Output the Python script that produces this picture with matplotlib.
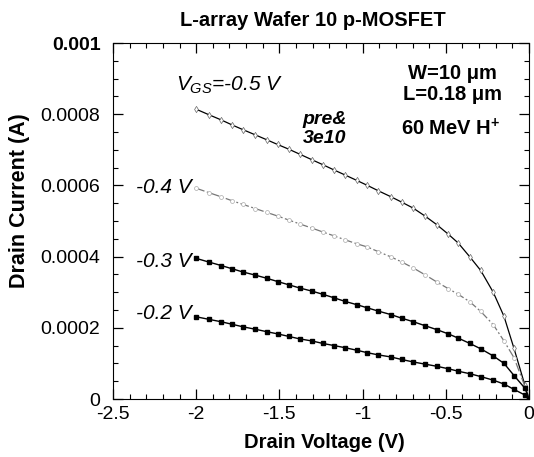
import matplotlib
matplotlib.use("Agg")
import matplotlib.pyplot as plt
from matplotlib.ticker import MultipleLocator

plt.rcParams['font.family'] = ['Liberation Sans', 'DejaVu Sans']
plt.rcParams['mathtext.fontset'] = 'custom'
plt.rcParams['mathtext.rm'] = 'Liberation Sans'
plt.rcParams['mathtext.it'] = 'Liberation Sans:italic'
plt.rcParams['mathtext.bf'] = 'Liberation Sans:bold'

# Drain voltage (V) at the measured points
vd = [-2.000, -1.926, -1.850, -1.785, -1.721, -1.645, -1.575, -1.511, -1.445, -1.379,
      -1.304, -1.238, -1.170, -1.104, -1.035, -0.971, -0.906, -0.829, -0.765, -0.695,
      -0.625, -0.555, -0.485, -0.425, -0.355, -0.290, -0.215, -0.150, -0.090, -0.024, 0.0]

# Drain current (units of 1e-4 A) for each gate voltage
id_m05 = [8.14, 7.99, 7.84, 7.70, 7.57, 7.42, 7.28, 7.15, 7.02, 6.88,
          6.72, 6.58, 6.43, 6.29, 6.14, 6.00, 5.85, 5.68, 5.53, 5.36,
          5.14, 4.90, 4.63, 4.38, 3.99, 3.61, 3.00, 2.32, 1.42, 0.38, 0.0]
id_m04 = [5.92, 5.80, 5.68, 5.57, 5.47, 5.35, 5.24, 5.14, 5.03, 4.92,
          4.80, 4.69, 4.58, 4.47, 4.36, 4.27, 4.14, 3.99, 3.85, 3.68,
          3.49, 3.29, 3.10, 2.94, 2.73, 2.46, 2.09, 1.63, 1.16, 0.35, 0.0]
id_m03 = [3.95, 3.85, 3.75, 3.66, 3.57, 3.48, 3.39, 3.30, 3.21, 3.12,
          3.03, 2.94, 2.84, 2.74, 2.65, 2.56, 2.47, 2.37, 2.27, 2.17,
          2.06, 1.95, 1.83, 1.71, 1.56, 1.41, 1.21, 1.00, 0.66, 0.30, 0.0]
id_m02 = [2.31, 2.24, 2.17, 2.10, 2.03, 1.96, 1.89, 1.83, 1.76, 1.69,
          1.63, 1.56, 1.50, 1.44, 1.37, 1.30, 1.24, 1.18, 1.11, 1.04,
          0.98, 0.92, 0.85, 0.78, 0.71, 0.63, 0.53, 0.42, 0.27, 0.11, 0.0]

xticks = [-2.5, -2, -1.5, -1, -0.5, 0]
xticklabels = ['-2.5', '-2', '-1.5', '-1', '-0.5', '0']
yticks = [0, 0.0002, 0.0004, 0.0006, 0.0008, 0.001]
yticklabels = ['0', '0.0002', '0.0004', '0.0006', '0.0008', '0.001']

scale = 1e-4

fig = plt.figure(figsize=(5.34, 4.57), dpi=100)
ax = fig.add_axes([0.2116, 0.1269, 0.779, 0.779])

ax.plot(vd, [v * scale for v in id_m05], color='black', lw=0.9,
        marker='d', ms=3.2, mfc='white', mec='#666666', mew=0.5)
ax.plot(vd, [v * scale for v in id_m04], color='#777777', lw=0.9,
        ls=(0, (7, 2, 1.5, 2)), marker='o', ms=2.8, mfc='white', mec='#aaaaaa', mew=0.5)
ax.plot(vd, [v * scale for v in id_m03], color='black', lw=1.0,
        marker='s', ms=3.5, mfc='black', mec='black')
ax.plot(vd, [v * scale for v in id_m02], color='black', lw=1.0,
        marker='s', ms=3.5, mfc='black', mec='black')

ax.set_xlim(-2.5, 0)
ax.set_ylim(0, 0.001)
ax.set_xticks(xticks)
ax.set_xticklabels(xticklabels)
ax.set_yticks(yticks)
ax.set_yticklabels(yticklabels)
ax.xaxis.set_minor_locator(MultipleLocator(0.1))
ax.yaxis.set_minor_locator(MultipleLocator(0.00005))
ax.tick_params(which='both', direction='in', top=True, right=True)
ax.tick_params(which='major', length=7, width=0.9)
ax.tick_params(which='minor', length=3.5, width=0.8)
ax.tick_params(axis='x', labelsize=14, pad=5)
ax.tick_params(axis='y', labelsize=14, pad=9)
ax.get_yticklabels()[-1].set_fontweight('bold')
for s in ax.spines.values():
    s.set_linewidth(0.8)

ax.set_xlabel('Drain Voltage (V)', fontsize=14.5, fontweight='bold')
ax.xaxis.set_label_coords(0.507, -0.095)
ax.set_ylabel('Drain Current (A)', fontsize=15.5, fontweight='bold')
ax.yaxis.set_label_coords(-0.200, 0.556)

ax.text(0.481, 1.063, 'L-array Wafer 10 p-MOSFET', transform=ax.transAxes,
        ha='center', va='center', fontsize=14.5, fontweight='bold')

ax.text(-2.12, 0.000882, r'$V_{GS}$=-0.5 V', ha='left', va='center',
        fontsize=15, style='italic')
ax.text(-2.03, 0.000593, '-0.4 V', ha='right', va='center', fontsize=15, style='italic')
ax.text(-2.03, 0.000386, '-0.3 V', ha='right', va='center', fontsize=15, style='italic')
ax.text(-2.03, 0.000241, '-0.2 V', ha='right', va='center', fontsize=15, style='italic')

ax.text(-1.23, 0.000786, 'pre&', ha='center', va='center', fontsize=14,
        fontweight='bold', style='italic')
ax.text(-1.23, 0.000731, '3e10', ha='center', va='center', fontsize=14,
        fontweight='bold', style='italic')

ax.text(-0.46, 0.000915, 'W=10 μm', ha='center', va='center', fontsize=14.5, fontweight='bold')
ax.text(-0.46, 0.000854, 'L=0.18 μm', ha='center', va='center', fontsize=14.5, fontweight='bold')
ax.text(-0.47, 0.00076, r'60 MeV H$^{\mathbf{+}}$', ha='center', va='center',
        fontsize=14.5, fontweight='bold')

fig.savefig('out.png', dpi=100)
